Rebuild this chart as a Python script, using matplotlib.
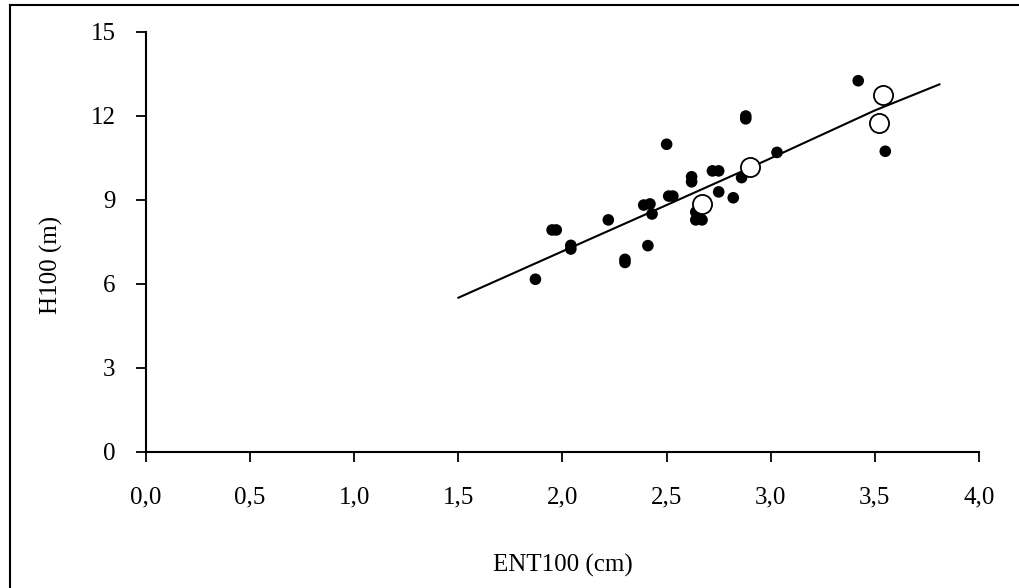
import numpy as np
import matplotlib
matplotlib.use("Agg")
import matplotlib.pyplot as plt
from matplotlib.lines import Line2D

# -----------------------------
# DATA
# -----------------------------
ent_obs = [1.87, 1.95, 1.97, 2.04, 2.04, 2.22, 2.30, 2.30, 2.41, 2.39, 2.42,
           2.43, 2.50, 2.51, 2.53, 2.62, 2.62, 2.64, 2.64, 2.67, 2.72, 2.75,
           2.75, 2.82, 2.86, 2.88, 2.88, 3.03, 3.42, 3.55]
h_obs = [6.17, 7.93, 7.93, 7.25, 7.38, 8.29, 6.77, 6.88, 7.37, 8.82, 8.86,
         8.50, 10.99, 9.14, 9.14, 9.83, 9.65, 8.57, 8.29, 8.29, 10.04, 10.04,
         9.29, 9.08, 9.80, 11.90, 12.00, 10.70, 13.26, 10.74]

ent_val = [2.67, 2.90, 3.52, 3.54]
h_val = [8.86, 10.19, 11.76, 12.76]

ent_fit = [1.50, 2.04, 2.50, 2.90, 3.50, 3.81]
h_fit = [5.51, 7.30, 8.82, 10.15, 12.20, 13.13]

x_ticks = [0.0, 0.5, 1.0, 1.5, 2.0, 2.5, 3.0, 3.5, 4.0]
y_ticks = [0, 3, 6, 9, 12, 15]

# -----------------------------
# PLOT
# -----------------------------
plt.rcParams["font.family"] = ["Liberation Serif", "DejaVu Serif"]
W, H = 1020, 588

fig = plt.figure(figsize=(10.2, 5.88), dpi=100)
ax = fig.add_axes([146 / W, 1 - 452 / H, 833 / W, 420 / H])

ax.plot(ent_fit, h_fit, color="black", lw=1.5, zorder=2)
ax.scatter(ent_obs, h_obs, s=70, color="black", edgecolors="none", zorder=3)
ax.scatter(ent_val, h_val, s=190, facecolors="white", edgecolors="black",
           linewidths=1.3, zorder=4)

ax.set_xlim(0, 4)
ax.set_ylim(0, 15)
ax.set_xticks(x_ticks)
ax.set_xticklabels([f"{v:.1f}".replace(".", ",") for v in x_ticks])
ax.set_yticks(y_ticks)

for side in ["top", "right"]:
    ax.spines[side].set_visible(False)
for side in ["left", "bottom"]:
    ax.spines[side].set_linewidth(1.5)

ax.tick_params(axis="x", direction="out", length=7, width=1.3, pad=18, labelsize=18)
ax.tick_params(axis="y", direction="out", length=7, width=1.3, pad=15, labelsize=18)

# axis titles
fig.text(563 / W, 1 - 565 / H, "ENT100 (cm)", fontsize=18, ha="center", va="center")
fig.text(51 / W, 1 - 265 / H, "H100 (m)", fontsize=18, ha="center", va="center",
         rotation=90)

# frame lines (top and left edges of the original chart box)
fig.lines.append(Line2D([10 / W, 1.0], [1 - 5 / H, 1 - 5 / H],
                        transform=fig.transFigure, color="black", lw=1.5))
fig.lines.append(Line2D([10 / W, 10 / W], [0.0, 1 - 5 / H],
                        transform=fig.transFigure, color="black", lw=1.5))

fig.savefig("out.png", dpi=100)
